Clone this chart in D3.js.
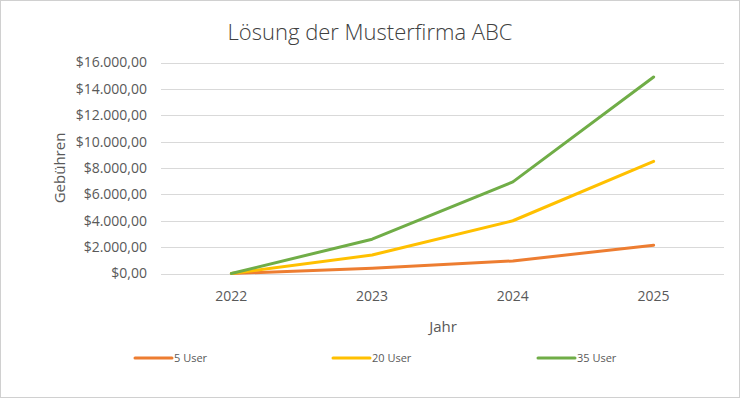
<!DOCTYPE html>
<html>
<head>
<meta charset="utf-8">
<script src="https://cdn.jsdelivr.net/npm/d3@7"></script>
<style>
  body { margin: 0; background: #fff; }
  text { font-family: "Open Sans", "Liberation Sans", sans-serif; fill: #595959; }
</style>
</head>
<body>
<script>
// Data
const years = ["2022", "2023", "2024", "2025"];
const seriesNames = ["5 User", "20 User", "35 User"];
const user5 = [0, 400, 950, 2150];
const user20 = [0, 1400, 4000, 8500];
const user35 = [0, 2600, 6950, 14900];
const yTicks = [0, 2000, 4000, 6000, 8000, 10000, 12000, 14000, 16000];
const colors = ["#ED7D31", "#FFC000", "#70AD47"];

const series = [user5, user20, user35];

// Dimensions
const width = 740, height = 398;
const plot = { left: 161, right: 724, top: 62.5, bottom: 273.5 };

const svg = d3.select("body").append("svg")
  .attr("width", width)
  .attr("height", height);

// outer border
svg.append("rect")
  .attr("x", 0.5).attr("y", 0.5)
  .attr("width", width - 1).attr("height", height - 1)
  .attr("fill", "#fff")
  .attr("stroke", "#d0d0d0");

const x = d3.scaleBand()
  .domain(years)
  .range([plot.left, plot.right]);

const y = d3.scaleLinear()
  .domain([0, 16000])
  .range([plot.bottom, plot.top]);

const fmt = v => "$" + d3.format(",.2f")(v).replace(/,/g, "#").replace(".", ",").replace(/#/g, ".");

// Gridlines
svg.append("g")
  .selectAll("line")
  .data(yTicks).enter()
  .append("line")
  .attr("x1", plot.left).attr("x2", plot.right)
  .attr("y1", d => Math.round(y(d)) + 0.5)
  .attr("y2", d => Math.round(y(d)) + 0.5)
  .attr("stroke", "#d9d9d9")
  .attr("stroke-width", 1);

// Y axis labels
const yAxis = svg.append("g")
  .attr("transform", "translate(" + (plot.left - 14) + ",0)")
  .call(d3.axisLeft(y).tickValues(yTicks).tickFormat(fmt).tickSize(0).tickPadding(0));
yAxis.select(".domain").remove();
yAxis.selectAll("text")
  .style("font-size", "14px")
  .style("fill", "#595959")
  .style("font-family", "'Open Sans', sans-serif");

// X axis labels
const xAxis = svg.append("g")
  .attr("transform", "translate(0," + plot.bottom + ")")
  .call(d3.axisBottom(x).tickSize(0).tickPadding(18));
xAxis.select(".domain").remove();
xAxis.selectAll("text")
  .style("font-size", "14px")
  .style("fill", "#595959")
  .style("font-family", "'Open Sans', sans-serif");

// Lines
const line = d3.line()
  .x((d, i) => x(years[i]) + x.bandwidth() / 2)
  .y(d => y(d));

svg.append("g")
  .selectAll("path")
  .data(series).enter()
  .append("path")
  .attr("d", d => line(d))
  .attr("fill", "none")
  .attr("stroke", (d, i) => colors[i])
  .attr("stroke-width", 3)
  .attr("stroke-linecap", "round")
  .attr("stroke-linejoin", "round");

// Title
svg.append("text")
  .attr("x", 370).attr("y", 40)
  .attr("text-anchor", "middle")
  .style("font-size", "22px")
  .style("font-weight", 300)
  .style("fill", "#404040")
  .text("Lösung der Musterfirma ABC");

// Axis titles
svg.append("text")
  .attr("x", 443).attr("y", 332)
  .attr("text-anchor", "middle")
  .style("font-size", "15px")
  .text("Jahr");

svg.append("text")
  .attr("transform", "translate(65,168) rotate(-90)")
  .attr("text-anchor", "middle")
  .style("font-size", "15px")
  .text("Gebühren");

// Legend
const legendX = [135, 333, 538];
const legend = svg.append("g")
  .selectAll("g")
  .data(seriesNames).enter()
  .append("g")
  .attr("transform", (d, i) => "translate(" + legendX[i] + ",358)");
legend.append("line")
  .attr("x1", 0).attr("x2", 37)
  .attr("y1", 0).attr("y2", 0)
  .attr("stroke", (d, i) => colors[i])
  .attr("stroke-width", 3)
  .attr("stroke-linecap", "round");
legend.append("text")
  .attr("x", 39).attr("y", 4)
  .style("font-size", "11px")
  .text(d => d);
</script>
</body>
</html>
